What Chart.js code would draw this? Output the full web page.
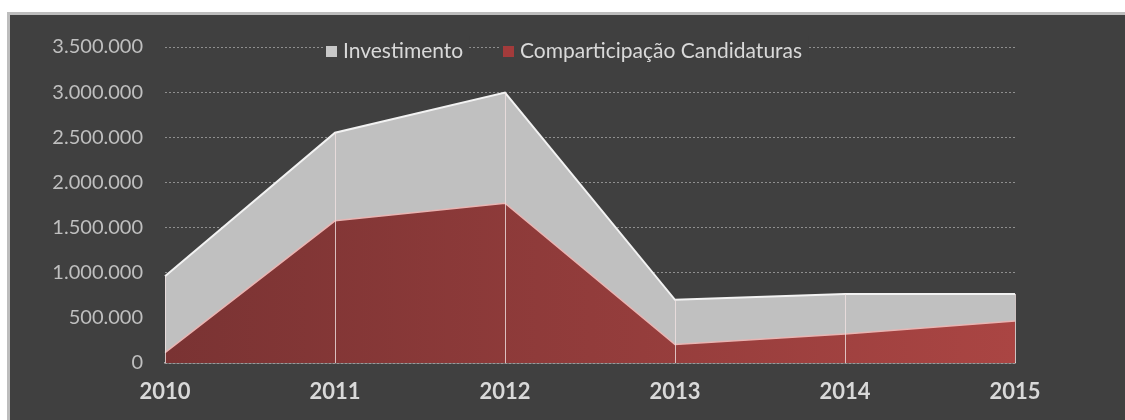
<!DOCTYPE html>
<html>
<head>
<meta charset="utf-8">
<script src="https://cdn.jsdelivr.net/npm/chart.js@4.4.1/dist/chart.umd.min.js"></script>
<style>
  html, body { margin: 0; padding: 0; background: #ffffff; overflow: hidden; }
  #painel {
    position: absolute; left: 7px; top: 12px; width: 1118px; height: 420px;
    background: #404040; border-left: 3px solid #bdbdbd; border-top: 3px solid #bdbdbd;
    box-sizing: border-box;
  }
  #grafico { position: absolute; left: 0; top: 0; }
</style>
</head>
<body>
<div id="painel"></div>
<canvas id="grafico" width="1125" height="420"></canvas>
<script>
// Dados do gráfico
const anos = ["2010", "2011", "2012", "2013", "2014", "2015"];
const investimento = [960000, 2550000, 2995000, 700000, 765000, 765000];
const comparticipacao = [115000, 1575000, 1770000, 205000, 320000, 465000];
const legendaNomes = ["Investimento", "Comparticipação Candidaturas"];

const fonte = "Lato, 'Open Sans', sans-serif";

function formatarPontos(v) {
  return String(v).replace(/\B(?=(\d{3})+(?!\d))/g, ".");
}

// Linhas verticais (drop lines) desde o topo da área até à base
const linhasVerticais = {
  id: "linhasVerticais",
  afterDatasetsDraw(chart) {
    const ctx = chart.ctx;
    const meta = chart.getDatasetMeta(0);
    const yBase = chart.scales.y.getPixelForValue(0);
    ctx.save();
    ctx.strokeStyle = "rgba(240, 225, 225, 0.8)";
    ctx.lineWidth = 1;
    meta.data.forEach(p => {
      const x = Math.round(p.x) + 0.5;
      ctx.beginPath();
      ctx.moveTo(x, p.y);
      ctx.lineTo(x, yBase);
      ctx.stroke();
    });
    ctx.restore();
  }
};

// Legenda sobreposta à linha de grelha superior
const legendaTopo = {
  id: "legendaTopo",
  afterDraw(chart) {
    const ctx = chart.ctx;
    ctx.save();
    ctx.font = "21px " + fonte;
    ctx.textBaseline = "middle";
    const itens = [
      { x: 326, cor: "#c8c8c8", nome: legendaNomes[0] },
      { x: 503, cor: "#a33b3b", nome: legendaNomes[1] }
    ];
    itens.forEach(it => {
      const largura = ctx.measureText(it.nome).width;
      ctx.fillStyle = "#404040";
      ctx.fillRect(it.x - 3, 36, largura + 26, 26);
      ctx.fillStyle = it.cor;
      ctx.fillRect(it.x, 46, 11, 11);
      ctx.fillStyle = "#d9d9d9";
      ctx.fillText(it.nome, it.x + 17, 51);
    });
    ctx.restore();
  }
};

function gradienteVermelho(context) {
  const area = context.chart.chartArea;
  if (!area) return "#8f3a3a";
  const g = context.chart.ctx.createLinearGradient(area.left, 0, area.right, 0);
  g.addColorStop(0, "#7a3333");
  g.addColorStop(1, "#aa4543");
  return g;
}

const ctx = document.getElementById("grafico").getContext("2d");
new Chart(ctx, {
  type: "line",
  data: {
    labels: anos,
    datasets: [
      {
        label: legendaNomes[0],
        data: investimento,
        fill: "origin",
        backgroundColor: "#c0c0c0",
        borderColor: "#f2f2f2",
        borderWidth: 2,
        pointRadius: 0,
        tension: 0,
        order: 2
      },
      {
        label: legendaNomes[1],
        data: comparticipacao,
        fill: "origin",
        backgroundColor: gradienteVermelho,
        borderColor: "#e9b5b3",
        borderWidth: 1.5,
        pointRadius: 0,
        tension: 0,
        order: 1
      }
    ]
  },
  options: {
    responsive: false,
    animation: false,
    layout: { padding: { top: 47, right: 110, left: 0, bottom: 0 } },
    plugins: {
      legend: { display: false },
      tooltip: { enabled: false }
    },
    scales: {
      x: {
        offset: false,
        grid: { display: false, drawTicks: false },
        border: { display: true, color: "#a6a6a6", width: 1.5 },
        ticks: {
          padding: 16,
          color: "#d9d9d9",
          font: { family: fonte, size: 22, weight: "bold" },
          maxRotation: 0
        },
        afterFit(scale) { scale.height = 57; }
      },
      y: {
        min: 0,
        max: 3500000,
        grid: { color: "#8f8f8f", lineWidth: 1, drawTicks: false },
        border: { display: false, dash: [2, 2] },
        ticks: {
          stepSize: 500000,
          padding: 22,
          color: "#bfbfbf",
          font: { family: fonte, size: 20 },
          callback: v => formatarPontos(v)
        },
        afterFit(scale) { scale.width = 165; }
      }
    }
  },
  plugins: [linhasVerticais, legendaTopo]
});
</script>
</body>
</html>
